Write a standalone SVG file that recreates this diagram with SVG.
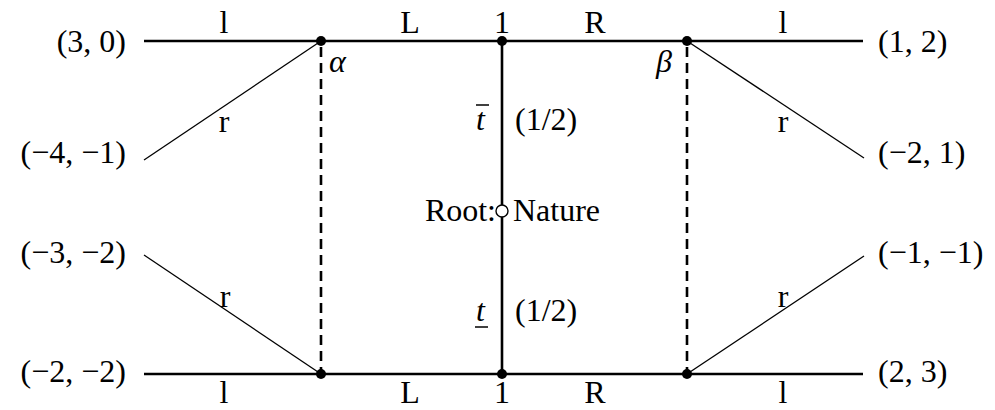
<svg xmlns="http://www.w3.org/2000/svg" width="995" height="410" viewBox="0 0 995 410">
<style>
text{font-family:"Liberation Serif","DejaVu Serif",serif;font-size:32px;fill:#000}
.it{font-style:italic}
.m{text-anchor:middle}
.e{text-anchor:end}
.thick{stroke:#000;stroke-width:2.6;fill:none}
.thin{stroke:#000;stroke-width:1.3;fill:none}
.dash{stroke:#000;stroke-width:2.6;stroke-dasharray:10,6;fill:none}
.dot{fill:#000}
</style>
<rect width="995" height="410" fill="#fff"/>
<g id="connectors">
<line class="thick" x1="144" y1="41" x2="863" y2="41"/>
<line class="thick" x1="144" y1="374" x2="863" y2="374"/>
<line class="thick" x1="502" y1="41" x2="502" y2="374"/>
<line class="thin" x1="144" y1="160" x2="321" y2="41"/>
<line class="thin" x1="144" y1="255" x2="321" y2="374"/>
<line class="thin" x1="687" y1="41" x2="864" y2="158"/>
<line class="thin" x1="687" y1="374" x2="864" y2="256"/>
<line class="dash" x1="321" y1="47" x2="321" y2="370"/>
<line class="dash" x1="687" y1="47" x2="687" y2="370"/>
<text class="m" x="224" y="33">l</text>
<text class="m" x="410" y="33">L</text>
<text class="m" x="595" y="33">R</text>
<text class="m" x="783" y="33">l</text>
<text class="m" x="224" y="403">l</text>
<text class="m" x="410" y="403">L</text>
<text class="m" x="595" y="403">R</text>
<text class="m" x="783" y="403">l</text>
<text class="m" x="224" y="132">r</text>
<text class="m" x="783" y="132">r</text>
<text class="m" x="225" y="307">r</text>
<text class="m" x="783" y="307">r</text>
<text class="it" x="476" y="130">t</text>
<line x1="476" y1="105" x2="489" y2="105" stroke="#000" stroke-width="1.5"/>
<text x="515" y="130">(1/2)</text>
<text class="it" x="476" y="321">t</text>
<line x1="475" y1="327" x2="488" y2="327" stroke="#000" stroke-width="1.5"/>
<text x="515" y="321">(1/2)</text>
</g>
<g id="alpha">
<circle class="dot" cx="321" cy="41" r="5"/>
<text class="it" x="329" y="72">α</text>
</g>
<g id="top1">
<circle class="dot" cx="502" cy="41" r="5"/>
<text class="m" x="502" y="33">1</text>
</g>
<g id="beta">
<circle class="dot" cx="687" cy="41" r="5"/>
<text class="it" x="656" y="72">β</text>
</g>
<g id="bl">
<circle class="dot" cx="321" cy="374" r="5"/>
</g>
<g id="bot1">
<circle class="dot" cx="502" cy="374" r="5"/>
<text class="m" x="502" y="403">1</text>
</g>
<g id="br">
<circle class="dot" cx="687" cy="374" r="5"/>
</g>
<g id="root">
<circle cx="502" cy="211" r="6" fill="#fff" stroke="#000" stroke-width="1.4"/>
<text class="e" x="496" y="221">Root:</text>
<text x="513" y="221">Nature</text>
</g>
<g id="p30"><text class="e" x="126" y="52">(3, 0)</text></g>
<g id="pm4m1"><text class="e" x="126" y="163">(−4, −1)</text></g>
<g id="pm3m2"><text class="e" x="126" y="263">(−3, −2)</text></g>
<g id="pm2m2"><text class="e" x="126" y="382">(−2, −2)</text></g>
<g id="p12"><text x="878" y="52">(1, 2)</text></g>
<g id="pm21"><text x="878" y="163">(−2, 1)</text></g>
<g id="pm1m1"><text x="878" y="263">(−1, −1)</text></g>
<g id="p23"><text x="878" y="382">(2, 3)</text></g>
</svg>
